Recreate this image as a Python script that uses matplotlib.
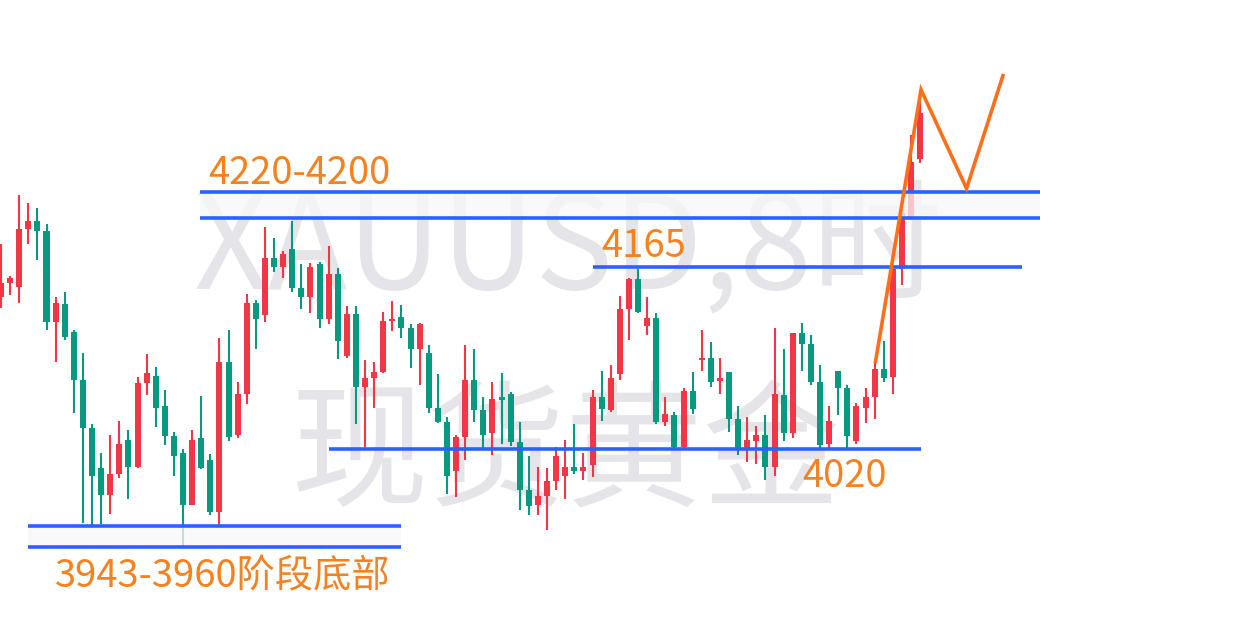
import numpy as np
import matplotlib
matplotlib.use("Agg")
import matplotlib.pyplot as plt

plt.rcParams['font.family'] = ['Noto Sans CJK SC', 'DejaVu Sans']

# XAUUSD 8h candles (price units)
opens = [4138, 4149, 4146, 4191, 4198, 4190, 4119, 4133, 4111, 4074,
         4036, 4005, 3984, 4000, 4027, 4006, 4071, 4077, 4053, 4030,
         4017, 3976, 4028, 4011, 3971, 4088, 4031, 4063, 4134, 4124,
         4169, 4162, 4176, 4145, 4138, 4164, 4121, 4156, 4092, 4125,
         4068, 4075, 4080, 4120, 4123, 4114, 4098, 4095, 4052, 4041,
         4003, 4029, 4074, 4050, 4032, 4060, 4063, 4025, 3988, 3976,
         3983, 3995, 3999, 4006, 4003, 4007, 4060, 4050, 4078, 4129,
         4152, 4116, 4122, 4041, 4046, 4021, 4065, 4089, 4091, 4073,
         4080, 4043, 4019, 4026, 4031, 4006, 4062, 4032, 4110, 4102,
         4072, 4024, 4081, 4067, 4026, 4052, 4060, 4082, 4076, 4160,
         4201, 4246]
highs = [4180, 4155, 4218, 4212, 4208, 4195, 4138, 4142, 4113, 4095,
         4039, 4017, 4031, 4042, 4035, 4076, 4094, 4084, 4066, 4033,
         4020, 4035, 4061, 4016, 4106, 4113, 4072, 4141, 4136, 4193,
         4184, 4174, 4198, 4164, 4165, 4166, 4178, 4161, 4131, 4131,
         4089, 4088, 4127, 4135, 4132, 4117, 4118, 4101, 4078, 4045,
         4031, 4101, 4098, 4060, 4072, 4079, 4064, 4041, 4014, 4006,
         4005, 4021, 4027, 4039, 4017, 4066, 4081, 4085, 4139, 4153,
         4160, 4138, 4126, 4060, 4049, 4067, 4080, 4113, 4103, 4091,
         4080, 4053, 4045, 4038, 4046, 4114, 4098, 4110, 4118, 4109,
         4085, 4053, 4081, 4070, 4056, 4067, 4087, 4104, 4160, 4204,
         4265, 4300]
lows = [4130, 4140, 4134, 4180, 4167, 4113, 4088, 4105, 4048, 3962,
        3958, 3961, 3969, 3997, 3981, 4005, 4062, 4037, 4023, 3999,
        3943, 3976, 4004, 3968, 3960, 4026, 4028, 4055, 4098, 4119,
        4158, 4153, 4142, 4129, 4126, 4114, 4117, 4090, 4091, 4039,
        4021, 4052, 4079, 4112, 4106, 4083, 4070, 4048, 4040, 3985,
        3982, 4011, 4041, 4020, 4015, 4024, 4022, 3972, 3968, 3968,
        3957, 3988, 3981, 4000, 3996, 3998, 4042, 4049, 4074, 4105,
        4126, 4109, 4039, 4038, 4020, 4020, 4047, 4081, 4068, 4063,
        4033, 4015, 4010, 4008, 3996, 3999, 4026, 4028, 4081, 4070,
        4020, 4020, 4046, 4020, 4024, 4040, 4043, 4072, 4063, 4148,
        4201, 4243]
closes = [4149, 4153, 4191, 4198, 4190, 4119, 4134, 4107, 4074, 4036,
          3999, 3984, 4000, 4024, 4006, 4071, 4079, 4052, 4030, 4014,
          3976, 4027, 4005, 3971, 4088, 4029, 4063, 4134, 4121, 4169,
          4162, 4172, 4145, 4138, 4162, 4121, 4156, 4104, 4125, 4068,
          4075, 4080, 4120, 4121, 4114, 4098, 4117, 4052, 4041, 3999,
          4029, 4074, 4050, 4031, 4059, 4058, 4025, 3988, 3975, 3983,
          3995, 4014, 4006, 4003, 4006, 4060, 4051, 4075, 4129, 4152,
          4127, 4122, 4041, 4047, 4021, 4065, 4051, 4091, 4072, 4075,
          4043, 4019, 4027, 4031, 4006, 4063, 4032, 4110, 4102, 4072,
          4023, 4042, 4067, 4030, 4053, 4060, 4082, 4075, 4160, 4204,
          4244, 4282]

# horizontal levels drawn on the chart: price, first bar, last bar
level_prices = [4220, 4200, 4162, 4020, 3960, 3943]
level_start = [21.9, 21.9, 65.0, 36.0, 3.0, 3.0]
level_end = [114.2, 114.2, 112.2, 101.1, 44.0, 44.0]

# shaded zones between paired levels
zone_low = [4200, 3943]
zone_high = [4220, 3960]
zone_start = [21.9, 3.0]
zone_end = [114.2, 44.0]

# projected path (bar index, price)
path_x = [96.1, 101.1, 106.1, 110.1]
path_y = [4088, 4300, 4223, 4311]

UP = '#F23645'
DOWN = '#089981'
BLUE = '#2962FF'
ORANGE = '#F5821F'

fig = plt.figure(figsize=(12.38, 6.34), dpi=100, facecolor='white')
ax = fig.add_axes([0, 0, 1, 1])
ax.set_xlim(-0.11, 135.93)
ax.set_ylim(3875.5, 4370)
ax.axis('off')

# watermark
ax.text(0.459, 0.5457, "XAUUSD,8时", transform=ax.transAxes, ha='center', va='baseline',
        fontsize=94, color='#E5E5E9', zorder=1)
ax.text(0.4565, 0.278, "现货黄金", transform=ax.transAxes, ha='center', va='center',
        fontsize=99, color='#E5E5E9', zorder=1)

o = np.array(opens)
h = np.array(highs)
l = np.array(lows)
c = np.array(closes)
x = np.arange(len(o))
cols = np.where(c >= o, UP, DOWN)

ax.vlines(x, l, h, colors=cols, lw=1.5, zorder=2)
body = np.maximum(np.abs(c - o), 1.2)
ax.bar(x, body, bottom=np.minimum(o, c), width=0.66, color=cols, zorder=3)

for lo, hi, x0, x1 in zip(zone_low, zone_high, zone_start, zone_end):
    ax.fill_between([x0, x1], lo, hi, color='#F8F8F8', alpha=0.75, lw=0, zorder=4)

for p, x0, x1 in zip(level_prices, level_start, level_end):
    ax.hlines(p, x0, x1, color=BLUE, lw=2.6, zorder=5)

ax.plot(path_x, path_y, color='#FF6F1A', lw=2.6, solid_joinstyle='miter', zorder=6)

lbl = dict(color=ORANGE, fontsize=27.5, va='baseline', ha='left', transform=ax.transAxes, zorder=7)
ax.text(208 / 1238, 1 - 184 / 634, "4220-4200", **lbl)
ax.text(601 / 1238, 1 - 257 / 634, "4165", **lbl)
ax.text(802 / 1238, 1 - 487 / 634, "4020", **lbl)
ax.text(55 / 1238, 1 - 587 / 634, "3943-3960阶段底部", **lbl)

fig.savefig("out.png", dpi=100, facecolor='white')
